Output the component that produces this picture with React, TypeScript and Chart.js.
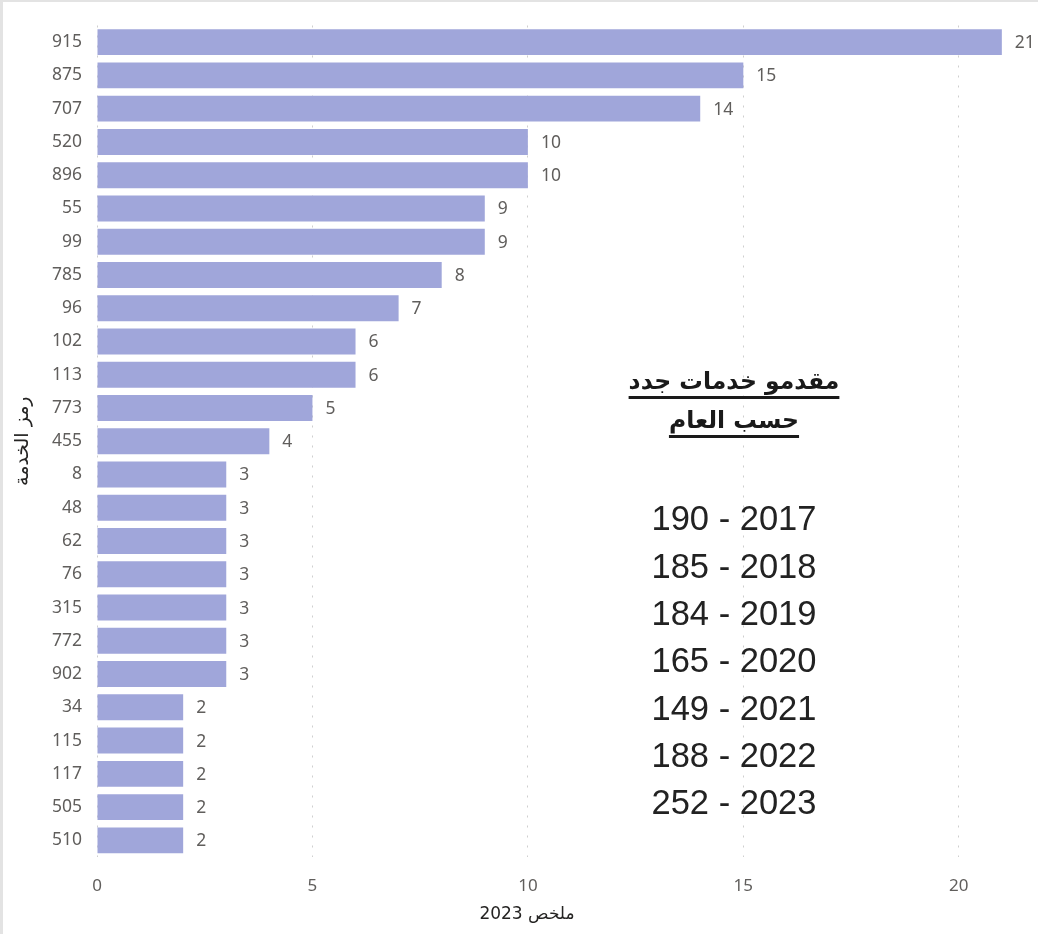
import React, { useEffect, useRef } from "react";
import { Chart, registerables } from "chart.js";

Chart.register(...registerables);

const categories = ["915","875","707","520","896","55","99","785","96","102","113","773","455","8","48","62","76","315","772","902","34","115","117","505","510"];
const values = [21,15,14,10,10,9,9,8,7,6,6,5,4,3,3,3,3,3,3,3,2,2,2,2,2];
const xTicks = [0, 5, 10, 15, 20];
const boxTitle = ["مقدمو خدمات جدد", "حسب العام"];
const yearLines = ["190 - 2017","185 - 2018","184 - 2019","165 - 2020","149 - 2021","188 - 2022","252 - 2023"];
const xTitle = "ملخص 2023";
const yTitle = "رمز الخدمة";

const FONT = "'Noto Sans', 'DejaVu Sans', sans-serif";
const GREY = "#605e5c";

const labelPlugin = {
  id: "barLabels",
  afterDatasetsDraw(chart: any) {
    const ctx = chart.ctx;
    const meta = chart.getDatasetMeta(0);
    ctx.save();
    ctx.font = `17.5px ${FONT}`;
    ctx.fillStyle = GREY;
    ctx.textAlign = "left";
    ctx.textBaseline = "middle";
    meta.data.forEach((el: any, i: number) => {
      ctx.fillText(String(values[i]), el.x + 13, el.y + 1);
    });
    ctx.restore();
  },
};

export default function App() {
  const ref = useRef<HTMLCanvasElement | null>(null);
  useEffect(() => {
    document.body.style.margin = "0";
    const chart = new Chart(ref.current!, {
      type: "bar",
      data: {
        labels: categories,
        datasets: [
          {
            data: values,
            backgroundColor: "#a0a6da",
            borderWidth: 0,
            barPercentage: 0.78,
            categoryPercentage: 1,
          },
        ],
      },
      options: {
        indexAxis: "y",
        animation: false,
        responsive: false,
        maintainAspectRatio: false,
        layout: { padding: { top: 20, right: 6, left: 0, bottom: 0 } },
        plugins: { legend: { display: false }, tooltip: { enabled: false } },
        scales: {
          x: {
            min: 0,
            max: 21.7,
            afterBuildTicks(scale: any) {
              scale.ticks = xTicks.map((v) => ({ value: v }));
            },
            afterFit(scale: any) {
              scale.height = 77;
            },
            ticks: { font: { size: 17, family: FONT }, color: GREY, padding: 19 },
            grid: { display: true, color: "#cfcfcf", drawTicks: false, lineWidth: 1 },
            border: { display: false, dash: [2, 8] },
          },
          y: {
            afterFit(scale: any) {
              scale.width = 97;
            },
            ticks: { font: { size: 17.5, family: FONT }, color: GREY, padding: 15, autoSkip: false },
            grid: { display: false, drawTicks: false },
            border: { display: false },
            title: {
              display: true,
              text: yTitle,
              font: { size: 19, family: "'DejaVu Sans', sans-serif" },
              color: "#252423",
              padding: { top: 12, bottom: 0 },
            },
          },
        },
      },
      plugins: [labelPlugin],
    } as any);
    return () => chart.destroy();
  }, []);

  return (
    <div style={{ position: "relative", width: 1038, height: 934, overflow: "hidden", background: "#fff" }}>
      <canvas ref={ref} width={1038} height={934} style={{ position: "absolute", left: 0, top: 0 }} />
      <div style={{ position: "absolute", left: 0, top: 0, width: 3, height: 934, background: "#e3e3e3" }} />
      <div style={{ position: "absolute", left: 0, top: 0, width: 1038, height: 2, background: "#e3e3e3" }} />
      <div
        dir="rtl"
        style={{
          position: "absolute",
          left: 534,
          top: 362,
          width: 400,
          textAlign: "center",
          fontFamily: "'DejaVu Sans', sans-serif",
          fontWeight: "bold",
          fontSize: 23.5,
          lineHeight: "39px",
          color: "#1a1a1a",
          textDecoration: "underline",
          textUnderlineOffset: "7px",
          textDecorationThickness: "3px",
        }}
      >
        {boxTitle.map((t, i) => (
          <div key={i}>{t}</div>
        ))}
      </div>
      <div
        style={{
          position: "absolute",
          left: 534,
          top: 495.4,
          width: 400,
          textAlign: "center",
          fontFamily: "'Liberation Sans', Arial, sans-serif",
          fontSize: 34.5,
          lineHeight: "47.3px",
          color: "#222",
        }}
      >
        {yearLines.map((t, i) => (
          <div key={i}>{t}</div>
        ))}
      </div>
      <div
        dir="rtl"
        style={{
          position: "absolute",
          left: 427,
          top: 901,
          width: 200,
          textAlign: "center",
          fontFamily: "'DejaVu Sans', sans-serif",
          fontSize: 17,
          lineHeight: "24px",
          color: "#252423",
        }}
      >
        {xTitle}
      </div>
    </div>
  );
}
